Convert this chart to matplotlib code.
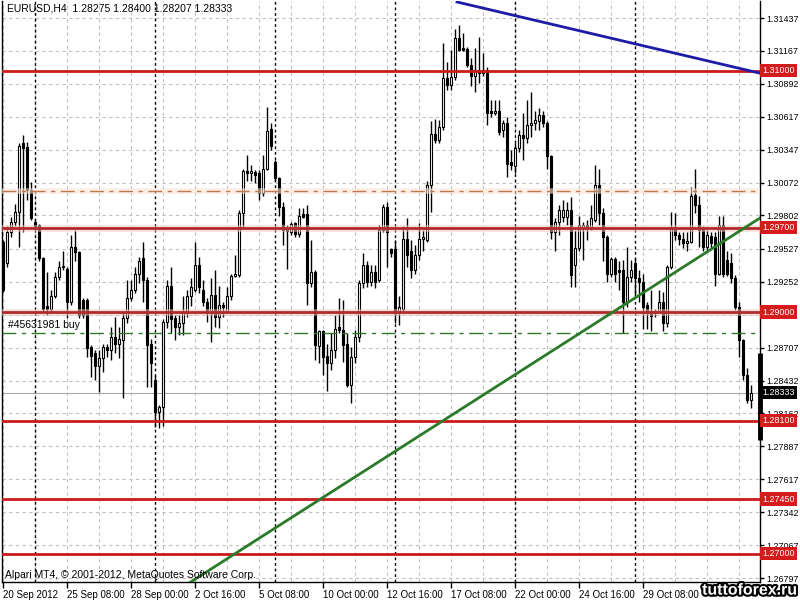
import numpy as np
import matplotlib.pyplot as plt
import matplotlib.patheffects as pe

plt.rcParams['font.family'] = ['Liberation Sans', 'DejaVu Sans']
plt.rcParams['font.size'] = 7

# EURUSD H4 candles (oldest first)
opens = [
    1.2958, 1.2941, 1.2966, 1.2975, 1.2983, 1.3040, 1.3037, 1.3001, 1.2975, 1.2972,
    1.2945, 1.2905, 1.2903, 1.2913, 1.2929, 1.2937, 1.2936, 1.2908, 1.2954, 1.2950,
    1.2910, 1.2910, 1.2871, 1.2866, 1.2855, 1.2862, 1.2871, 1.2869, 1.2879, 1.2874,
    1.2877, 1.2895, 1.2912, 1.2918, 1.2932, 1.2945, 1.2927, 1.2874, 1.2844, 1.2817,
    1.2821, 1.2892, 1.2922, 1.2895, 1.2888, 1.2891, 1.2899, 1.2913, 1.2918, 1.2939,
    1.2918, 1.2908, 1.2899, 1.2914, 1.2896, 1.2906, 1.2900, 1.2913, 1.2930, 1.2931,
    1.2982, 1.3017, 1.3015, 1.3016, 1.3015, 1.2999, 1.3019, 1.3052, 1.3024, 1.3011,
    1.2987, 1.2970, 1.2966, 1.2974, 1.2965, 1.2981, 1.2981, 1.2924, 1.2933, 1.2872,
    1.2884, 1.2864, 1.2858, 1.2869, 1.2888, 1.2885, 1.2874, 1.2840, 1.2863, 1.2879,
    1.2924, 1.2939, 1.2925, 1.2933, 1.2927, 1.2968, 1.2987, 1.2952, 1.2952, 1.2899,
    1.2903, 1.2961, 1.2951, 1.2935, 1.2947, 1.2961, 1.2960, 1.3005, 1.3048, 1.3043,
    1.3053, 1.3094, 1.3088, 1.3095, 1.3127, 1.3119, 1.3118, 1.3105, 1.3096, 1.3101,
    1.3098, 1.3101, 1.3067, 1.3065, 1.3067, 1.3051, 1.3057, 1.3024, 1.3021, 1.3036,
    1.3047, 1.3044, 1.3055, 1.3057, 1.3058, 1.3063, 1.3057, 1.3029, 1.2966, 1.2975,
    1.2979, 1.2979, 1.2985, 1.2939, 1.2953, 1.2970, 1.2972, 1.2970, 1.2976, 1.3005,
    1.2982, 1.2962, 1.2932, 1.2944, 1.2935, 1.2935, 1.2908, 1.2929, 1.2941, 1.2928,
    1.2925, 1.2906, 1.2901, 1.2899, 1.2901, 1.2908, 1.2891, 1.2937, 1.2970, 1.2964,
    1.2961, 1.2957, 1.2958, 1.2997, 1.2989, 1.2968, 1.2954, 1.2963, 1.2962, 1.2932,
    1.2972, 1.2943, 1.2941, 1.2928, 1.2904, 1.2877, 1.2848, 1.28275,
]
highs = [
    1.2960, 1.2971, 1.2979, 1.2990, 1.3040, 1.3047, 1.3041, 1.3008, 1.2976, 1.2973,
    1.2946, 1.2933, 1.2918, 1.2933, 1.2942, 1.2951, 1.2937, 1.2964, 1.2968, 1.2951,
    1.2912, 1.2912, 1.2873, 1.2869, 1.2869, 1.2874, 1.2874, 1.2888, 1.2896, 1.2888,
    1.2900, 1.2927, 1.2927, 1.2937, 1.2946, 1.2958, 1.2929, 1.2878, 1.2848, 1.2823,
    1.2894, 1.2927, 1.2937, 1.2898, 1.2898, 1.2913, 1.2918, 1.2928, 1.2958, 1.2946,
    1.2927, 1.2912, 1.2928, 1.2935, 1.2922, 1.2908, 1.2921, 1.2932, 1.2947, 1.2985,
    1.3019, 1.3030, 1.3022, 1.3018, 1.3018, 1.3030, 1.3070, 1.3057, 1.3026, 1.3012,
    1.2991, 1.2972, 1.2975, 1.2975, 1.2986, 1.2986, 1.2989, 1.2960, 1.2935, 1.2885,
    1.2885, 1.2874, 1.2883, 1.2898, 1.2912, 1.2910, 1.2883, 1.2871, 1.2885, 1.2927,
    1.2949, 1.2942, 1.2939, 1.2939, 1.2972, 1.2990, 1.2991, 1.2953, 1.2960, 1.2913,
    1.2971, 1.2978, 1.2960, 1.2956, 1.2974, 1.2968, 1.3009, 1.3058, 1.3060, 1.3059,
    1.3123, 1.3107, 1.3117, 1.3135, 1.3138, 1.3131, 1.3120, 1.3111, 1.3119, 1.3128,
    1.3115, 1.3103, 1.3076, 1.3076, 1.3076, 1.3059, 1.3062, 1.3034, 1.3040, 1.3051,
    1.3065, 1.3076, 1.3082, 1.3067, 1.3069, 1.3067, 1.3058, 1.3030, 1.2978, 1.2989,
    1.2993, 1.2991, 1.2995, 1.2968, 1.2980, 1.2975, 1.2976, 1.2989, 1.3022, 1.3019,
    1.2986, 1.2964, 1.2946, 1.2946, 1.2942, 1.2943, 1.2954, 1.2943, 1.2945, 1.2935,
    1.2932, 1.2908, 1.2918, 1.2903, 1.2918, 1.2917, 1.2939, 1.2983, 1.2982, 1.2966,
    1.2966, 1.2966, 1.3004, 1.3019, 1.2996, 1.2971, 1.2968, 1.2966, 1.2966, 1.2980,
    1.2980, 1.2951, 1.2949, 1.2931, 1.2908, 1.2878, 1.2854, 1.28400,
]
lows = [
    1.2917, 1.2937, 1.2962, 1.2971, 1.2954, 1.2966, 1.2993, 1.2976, 1.2970, 1.2942,
    1.2900, 1.2898, 1.2899, 1.2912, 1.2927, 1.2935, 1.2895, 1.2906, 1.2942, 1.2895,
    1.2895, 1.2863, 1.2846, 1.2844, 1.2834, 1.2850, 1.2863, 1.2860, 1.2866, 1.2862,
    1.2829, 1.2891, 1.2909, 1.2916, 1.2924, 1.2908, 1.2838, 1.2838, 1.2805, 1.2804,
    1.2806, 1.2887, 1.2883, 1.2877, 1.2881, 1.2881, 1.2896, 1.2905, 1.2917, 1.2916,
    1.2905, 1.2892, 1.2875, 1.2888, 1.2887, 1.2896, 1.2899, 1.2910, 1.2929, 1.2929,
    1.2970, 1.3009, 1.3009, 1.3007, 1.2993, 1.2996, 1.3018, 1.3034, 1.3009, 1.2980,
    1.2956, 1.2936, 1.2964, 1.2962, 1.2962, 1.2978, 1.2906, 1.2921, 1.2860, 1.2858,
    1.2848, 1.2835, 1.2852, 1.2862, 1.2883, 1.2859, 1.2838, 1.2825, 1.2858, 1.2875,
    1.2920, 1.2921, 1.2922, 1.2920, 1.2925, 1.2966, 1.2937, 1.2946, 1.2891, 1.2889,
    1.2899, 1.2937, 1.2928, 1.2932, 1.2943, 1.2951, 1.2958, 1.2983, 1.3040, 1.3040,
    1.3051, 1.3084, 1.3084, 1.3092, 1.3116, 1.3116, 1.3103, 1.3087, 1.3082, 1.3090,
    1.3096, 1.3055, 1.3062, 1.3063, 1.3047, 1.3045, 1.3012, 1.3018, 1.3015, 1.3033,
    1.3026, 1.3040, 1.3045, 1.3051, 1.3051, 1.3053, 1.3019, 1.2961, 1.2951, 1.2964,
    1.2975, 1.2972, 1.2921, 1.2921, 1.2951, 1.2943, 1.2960, 1.2968, 1.2975, 1.2972,
    1.2942, 1.2925, 1.2929, 1.2925, 1.2918, 1.2883, 1.2904, 1.2925, 1.2913, 1.2908,
    1.2886, 1.2886, 1.2884, 1.2896, 1.2899, 1.2884, 1.2888, 1.2936, 1.2960, 1.2956,
    1.2953, 1.2951, 1.2957, 1.2982, 1.2954, 1.2951, 1.2951, 1.2953, 1.2922, 1.2931,
    1.2929, 1.2930, 1.2924, 1.2902, 1.2863, 1.2844, 1.2825, 1.28207,
]
closes = [
    1.2918, 1.2966, 1.2975, 1.2983, 1.3038, 1.3036, 1.3001, 1.2978, 1.2971, 1.2945,
    1.2903, 1.2903, 1.2913, 1.2929, 1.2937, 1.2938, 1.2908, 1.2954, 1.2950, 1.2898,
    1.2898, 1.2870, 1.2864, 1.2855, 1.2862, 1.2871, 1.2869, 1.2879, 1.2874, 1.2878,
    1.2895, 1.2912, 1.2918, 1.2932, 1.2942, 1.2927, 1.2873, 1.2858, 1.2817, 1.2821,
    1.2892, 1.2922, 1.2894, 1.2888, 1.2891, 1.2899, 1.2913, 1.2921, 1.2939, 1.2921,
    1.2908, 1.2899, 1.2914, 1.2896, 1.2906, 1.2904, 1.2913, 1.2930, 1.2932, 1.2982,
    1.3017, 1.3015, 1.3017, 1.3014, 1.2999, 1.3019, 1.3050, 1.3038, 1.3011, 1.2987,
    1.2968, 1.2967, 1.2973, 1.2965, 1.2980, 1.2979, 1.2924, 1.2933, 1.2873, 1.2884,
    1.2863, 1.2858, 1.2869, 1.2886, 1.2885, 1.2873, 1.2840, 1.2863, 1.2879, 1.2924,
    1.2939, 1.2925, 1.2933, 1.2925, 1.2968, 1.2987, 1.2966, 1.2949, 1.2899, 1.2904,
    1.2961, 1.2947, 1.2935, 1.2947, 1.2961, 1.2962, 1.3005, 1.3048, 1.3043, 1.3053,
    1.3094, 1.3088, 1.3095, 1.3127, 1.3117, 1.3117, 1.3105, 1.3096, 1.3101, 1.3098,
    1.3101, 1.3065, 1.3065, 1.3067, 1.3049, 1.3057, 1.3023, 1.3022, 1.3036, 1.3047,
    1.3044, 1.3055, 1.3057, 1.3059, 1.3063, 1.3057, 1.3029, 1.2966, 1.2975, 1.2985,
    1.2985, 1.2985, 1.2931, 1.2953, 1.2972, 1.2972, 1.2970, 1.2978, 1.3005, 1.2982,
    1.2962, 1.2932, 1.2944, 1.2932, 1.2933, 1.2908, 1.2929, 1.2935, 1.2928, 1.2925,
    1.2904, 1.2899, 1.2897, 1.2901, 1.2908, 1.2891, 1.2937, 1.2970, 1.2964, 1.2961,
    1.2957, 1.2959, 1.2996, 1.2989, 1.2968, 1.2954, 1.2964, 1.2957, 1.2932, 1.2972,
    1.2932, 1.2932, 1.2928, 1.2904, 1.2877, 1.2848, 1.2827, 1.28333,
]

# horizontal levels drawn on the chart
levels = [1.3100, 1.2970, 1.2900, 1.2810, 1.2745, 1.2700]
level_labels = ['1.31000', '1.29700', '1.29000', '1.28100', '1.27450', '1.27000']
dash_level = 1.3000
order_price = 1.2883
order_label = '#45631981 buy'
bid = 1.28333
right_bar = [1.2866, 1.2794]

# trend lines (bar index, price)
blue_x = [113.5, 189.25]
blue_y = [1.3157, 1.3098]
green_x = [46.75, 189.25]
green_y = [1.2676, 1.2978]

ytick_vals = [1.31437, 1.31167, 1.30892, 1.30617, 1.30347, 1.30072, 1.29802, 1.29527,
              1.29252, 1.28977, 1.28707, 1.28432, 1.28162, 1.27887, 1.27617, 1.27342,
              1.27067, 1.26797]
xtick_labels = ['20 Sep 2012', '25 Sep 08:00', '28 Sep 00:00', '2 Oct 16:00', '5 Oct 08:00',
                '10 Oct 00:00', '12 Oct 16:00', '17 Oct 08:00', '22 Oct 00:00',
                '24 Oct 16:00', '29 Oct 08:00']
week_starts = [8, 38, 68, 98, 128, 158]

fig = plt.figure(figsize=(8, 6), dpi=100)
ax = fig.add_axes([0.0025, 0.03, 0.9475, 0.9683])

x = np.arange(len(opens))
o = np.array(opens)
h = np.array(highs)
l = np.array(lows)
c = np.array(closes)
up = c >= o

# grid
for gx in range(0, 190, 8):
    ax.axvline(gx, color='#c0c0c0', lw=0.8, ls=(0, (3, 3)), zorder=0)
for gy in ytick_vals:
    ax.axhline(gy, color='#c0c0c0', lw=0.8, ls=(0, (3, 3)), zorder=0)
for wx in week_starts:
    ax.axvline(wx, color='black', lw=1, ls=(0, (2, 2)), zorder=1)

ax.axhline(bid, color='#a8a8a8', lw=0.8, zorder=1)

# candles
ax.vlines(x, l, h, color='black', lw=1, zorder=4)
body = np.maximum(np.abs(c - o), 0.00006)
ax.bar(x, body, 0.5, bottom=np.minimum(o, c), color=np.where(up, 'white', 'black'),
       edgecolor='black', linewidth=0.8, zorder=5)

# levels
for lev in levels:
    if lev in (1.2970, 1.2900):
        ax.axhline(lev, color='#f3c9c0', lw=5, alpha=0.5, zorder=6)
        ax.axhline(lev, color='#b22a2a', lw=2, zorder=6)
    else:
        ax.axhline(lev, color='#cc1a1a', lw=2, zorder=6)
ax.axhline(dash_level, color='#fbe3d4', lw=4, alpha=0.6, zorder=6)
ax.axhline(dash_level, color='#c07850', lw=1, ls=(0, (10, 4, 3, 4)), zorder=6)
ax.axhline(order_price, color='#2f7a2f', lw=1, ls=(0, (10, 4, 3, 4)), zorder=6)
ax.text(1.25, order_price + 0.0006, order_label, va='center', ha='left', fontsize=7.5, zorder=7)

ax.plot(blue_x, blue_y, color='#1c1ca8', lw=2, zorder=7)
ax.plot(green_x, green_y, color='#2a7a2a', lw=2, zorder=7)

ax.set_xlim(-0.25, 189.25)
ax.set_ylim(1.26764, 1.31578)

ax.set_xticks(range(0, 161, 16))
ax.set_xticklabels(xtick_labels, ha='left')
ax.set_yticks(ytick_vals)
ax.set_yticklabels(['' if v == 1.28977 else '%.5f' % v for v in ytick_vals])
ax.yaxis.tick_right()
ax.tick_params(direction='out', length=4, width=1, color='black', pad=2, labelsize=7)
ax.tick_params(axis='y', labelsize=6.4, pad=1.5, length=3)
for sp in ax.spines.values():
    sp.set_color('black')
    sp.set_linewidth(1)
ax.spines['top'].set_visible(False)

# price labels on the right
ytr = ax.get_yaxis_transform()
for lev, lab in zip(levels, level_labels):
    ax.text(1.003, lev, lab, transform=ytr, color='white', va='center', ha='left', fontsize=6.4,
            bbox=dict(boxstyle='square,pad=0.25', fc='#d41c1c', ec='none'), clip_on=False, zorder=10)
ax.text(1.003, bid, '%.5f' % bid, transform=ytr, color='white', va='center', ha='left', fontsize=6.4,
        bbox=dict(boxstyle='square,pad=0.25', fc='black', ec='none'), clip_on=False, zorder=10)
ax.vlines(1.0, right_bar[1], right_bar[0], transform=ytr, color='black', lw=3.5,
          clip_on=False, zorder=9)

ax.text(0.007, 0.996, 'EURUSD,H4  1.28275 1.28400 1.28207 1.28333', transform=ax.transAxes,
        va='top', ha='left', fontsize=7.5, zorder=10)
ax.text(0.004, 0.004, 'Alpari MT4, \u00a9 2001-2012, MetaQuotes Software Corp.',
        transform=ax.transAxes, va='bottom', ha='left', fontsize=7.5, zorder=10)
fig.text(0.997, 0.004, 'tuttoforex.ru', ha='right', va='bottom', fontsize=11.5,
         fontweight='bold', color='white',
         path_effects=[pe.withStroke(linewidth=3, foreground='black')])

plt.savefig('out.png', dpi=100)
